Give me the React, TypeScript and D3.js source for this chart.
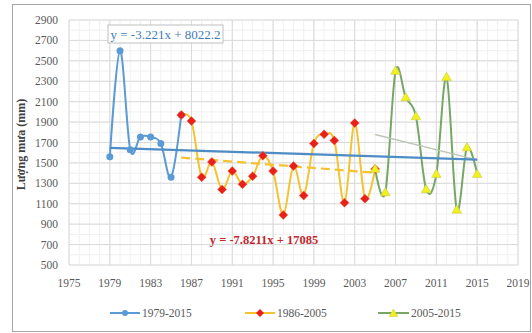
import React from 'react';
import * as d3 from 'd3';

const W = 532;
const H = 333;

// Annual rainfall (mm), three overlapping periods
const yearsA = [1979, 1980, 1981, 1982, 1983, 1984, 1985, 1986];
const rainA = [1560, 2600, 1630, 1755, 1755, 1690, 1360, 1970];

const yearsB = [1986, 1987, 1988, 1989, 1990, 1991, 1992, 1993, 1994, 1995, 1996, 1997, 1998, 1999, 2000, 2001, 2002, 2003, 2004, 2005];
const rainB = [1970, 1910, 1360, 1510, 1240, 1420, 1290, 1370, 1570, 1420, 990, 1470, 1180, 1690, 1780, 1720, 1110, 1890, 1150, 1440];

const yearsC = [2005, 2006, 2007, 2008, 2009, 2010, 2011, 2012, 2013, 2014, 2015];
const rainC = [1440, 1210, 2400, 2140, 1955, 1240, 1390, 2340, 1040, 1650, 1390];

const seriesNames = ['1979-2015', '1986-2005', '2005-2015'];

// Linear trend equations
const trendA = { slope: -3.221, intercept: 8022.2, from: 1979, to: 2015 };
const trendB = { slope: -7.8211, intercept: 17085, from: 1986, to: 2005 };

const yTicks = [500, 700, 900, 1100, 1300, 1500, 1700, 1900, 2100, 2300, 2500, 2700, 2900];
const xTicks = [1975, 1979, 1983, 1987, 1991, 1995, 1999, 2003, 2007, 2011, 2015, 2019];

const plot = { left: 69, right: 518, top: 20, bottom: 265 };

const x = d3.scaleLinear().domain([1975, 2019]).range([plot.left, plot.right]);
const y = d3.scaleLinear().domain([500, 2900]).range([plot.bottom, plot.top]);

const line = d3
  .line<[number, number]>()
  .x((d) => x(d[0]))
  .y((d) => y(d[1]))
  .curve(d3.curveCardinal.tension(0));

const zip = (xs: number[], ys: number[]): [number, number][] => xs.map((v, i) => [v, ys[i]]);

// Least-squares fit for the 2005-2015 period
function fit(xs: number[], ys: number[]) {
  const mx = d3.mean(xs)!;
  const my = d3.mean(ys)!;
  let sxy = 0;
  let sxx = 0;
  xs.forEach((v, i) => {
    sxy += (v - mx) * (ys[i] - my);
    sxx += (v - mx) * (v - mx);
  });
  const slope = sxy / sxx;
  return { slope, intercept: my - slope * mx };
}
const fitC = fit(yearsC, rainC);
const trendC = { ...fitC, from: 2005, to: 2015 };

const trendPts = (t: { slope: number; intercept: number; from: number; to: number }) => ({
  x1: x(t.from),
  y1: y(t.slope * t.from + t.intercept),
  x2: x(t.to),
  y2: y(t.slope * t.to + t.intercept),
});

const BLUE = '#5b9bd5';
const GOLD = '#f5c232';
const RED = '#e8201c';
const GREEN = '#76a767';
const TRI = '#f2f21a';
const SERIF = '"Liberation Serif", "Times New Roman", serif';

const diamond = (cx: number, cy: number, r: number) =>
  `M${cx},${cy - r}L${cx + r},${cy}L${cx},${cy + r}L${cx - r},${cy}Z`;
const triangle = (cx: number, cy: number, r: number) =>
  `M${cx},${cy - r}L${cx + r * 0.95},${cy + r * 0.65}L${cx - r * 0.95},${cy + r * 0.65}Z`;

export default function App() {
  const minorY = d3.range(500, 2901, 100);
  const minorX = d3.range(1975, 2020, 1);
  const tA = trendPts(trendA);
  const tB = trendPts(trendB);
  const tC = trendPts(trendC);

  return (
    <svg
      width={W}
      height={H}
      style={{ position: 'absolute', left: 0, top: 0, display: 'block', background: '#fff' }}
      fontFamily={SERIF}
    >
      <rect x={12.5} y={4.5} width={518} height={327} fill="#fff" stroke="#a6a6a6" />

      {/* grid */}
      <g>
        {minorY.map((v) => (
          <line key={'my' + v} x1={plot.left} x2={plot.right} y1={y(v)} y2={y(v)} stroke="#f0f0f0" />
        ))}
        {minorX.map((v) => (
          <line key={'mx' + v} x1={x(v)} x2={x(v)} y1={plot.top} y2={plot.bottom} stroke="#f0f0f0" />
        ))}
        {yTicks.map((v) => (
          <line key={'gy' + v} x1={plot.left} x2={plot.right} y1={y(v)} y2={y(v)} stroke="#dadada" />
        ))}
        {xTicks.map((v) => (
          <line key={'gx' + v} x1={x(v)} x2={x(v)} y1={plot.top} y2={plot.bottom} stroke="#dadada" />
        ))}
      </g>

      {/* tick labels */}
      <g fill="#595959" fontSize={11.5}>
        {yTicks.map((v) => (
          <text key={'ty' + v} x={58} y={y(v) + 4} textAnchor="end">
            {v}
          </text>
        ))}
        {xTicks.map((v) => (
          <text key={'tx' + v} x={x(v)} y={287} textAnchor="middle">
            {v}
          </text>
        ))}
      </g>

      <text
        transform={`translate(25,${(plot.top + plot.bottom) / 2 + 2}) rotate(-90)`}
        textAnchor="middle"
        fontSize={12}
        fontWeight="bold"
        fill="#404040"
      >
        Lượng mưa (mm)
      </text>

      {/* series lines */}
      <path d={line(zip(yearsA, rainA)) || ''} fill="none" stroke={BLUE} strokeWidth={2} />
      <path d={line(zip(yearsB, rainB)) || ''} fill="none" stroke={GOLD} strokeWidth={2} />
      <path d={line(zip(yearsC, rainC)) || ''} fill="none" stroke={GREEN} strokeWidth={2} />

      {/* trend lines */}
      <line {...tC} stroke="#bcc6b4" strokeWidth={1.5} />
      <line {...tA} stroke="#4d8cc4" strokeWidth={2.25} />
      <line {...tB} stroke={GOLD} strokeWidth={2.25} strokeDasharray="9,5" />

      {/* markers */}
      {yearsA.map((v, i) => (
        <circle key={'a' + v} cx={x(v)} cy={y(rainA[i])} r={3.5} fill={BLUE} />
      ))}
      {yearsB.map((v, i) => (
        <path key={'b' + v} d={diamond(x(v), y(rainB[i]), 4.5)} fill={RED} stroke="#f06030" strokeWidth={0.5} />
      ))}
      {yearsC.map((v, i) => (
        <path key={'c' + v} d={triangle(x(v), y(rainC[i]), 5)} fill={TRI} stroke="#c8c84a" strokeWidth={0.6} />
      ))}

      {/* trend equations */}
      <rect x={108} y={25} width={115} height={18} fill="#fff" stroke="#bfbfbf" />
      <text x={165.5} y={38.5} textAnchor="middle" fontSize={13} fill="#3f7db8">
        y = -3.221x + 8022.2
      </text>
      <text x={264} y={244} textAnchor="middle" fontSize={12.5} fontWeight="bold" fill="#c0282e">
        y = -7.8211x + 17085
      </text>

      {/* legend */}
      <g fontSize={11.5} fill="#595959">
        <line x1={110} x2={140} y1={313} y2={313} stroke={BLUE} strokeWidth={2} />
        <circle cx={125} cy={313} r={3} fill={BLUE} />
        <text x={142} y={317}>{seriesNames[0]}</text>

        <line x1={245} x2={275} y1={313} y2={313} stroke={GOLD} strokeWidth={2} />
        <path d={diamond(260, 313, 4)} fill={RED} />
        <text x={277} y={317}>{seriesNames[1]}</text>

        <line x1={378} x2={409} y1={313} y2={313} stroke={GREEN} strokeWidth={2} />
        <path d={triangle(393.5, 313.5, 4.5)} fill={TRI} stroke="#c8c84a" strokeWidth={0.6} />
        <text x={411} y={317}>{seriesNames[2]}</text>
      </g>
    </svg>
  );
}
